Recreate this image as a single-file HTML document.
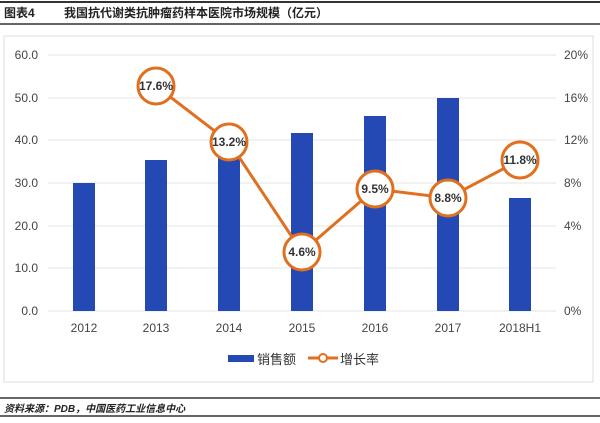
<!DOCTYPE html>
<html><head><meta charset="utf-8"><style>
body{margin:0;width:600px;height:418px;background:#fff;overflow:hidden;font-family:"Liberation Sans","Noto Sans CJK SC",sans-serif}
</style></head><body>
<svg width="600" height="418" xmlns="http://www.w3.org/2000/svg" font-family="Liberation Sans, Noto Sans CJK SC, sans-serif">
<line x1="0" y1="2" x2="600" y2="2" stroke="#333" stroke-width="2"/>
<text x="4" y="17" font-size="12" font-weight="bold" fill="#222">图表4</text>
<text x="64" y="17" font-size="12" font-weight="bold" fill="#222">我国抗代谢类抗肿瘤药样本医院市场规模（亿元）</text>
<line x1="0" y1="24" x2="600" y2="24" stroke="#333" stroke-width="1.5"/>
<rect x="4" y="36" width="589" height="346" fill="#fff" stroke="#ddd"/>
<g stroke="#e4e4e4" stroke-width="1">
<line x1="48" y1="55" x2="556" y2="55"/><line x1="48" y1="98" x2="556" y2="98"/><line x1="48" y1="140" x2="556" y2="140"/><line x1="48" y1="183" x2="556" y2="183"/><line x1="48" y1="226" x2="556" y2="226"/><line x1="48" y1="268" x2="556" y2="268"/><line x1="48" y1="311" x2="556" y2="311"/>
</g>
<g font-size="12" fill="#444" text-anchor="end">
<text x="38" y="59">60.0</text><text x="38" y="102">50.0</text><text x="38" y="144">40.0</text><text x="38" y="187">30.0</text><text x="38" y="230">20.0</text><text x="38" y="272">10.0</text><text x="38" y="315">0.0</text>
</g>
<g font-size="12" fill="#444">
<text x="564" y="59">20%</text><text x="564" y="102">16%</text><text x="564" y="144">12%</text><text x="564" y="187">8%</text><text x="564" y="230">4%</text><text x="564" y="315">0%</text>
</g>
<g fill="#2449b4">
<rect x="73" y="183" width="22" height="128"/><rect x="145" y="160" width="22" height="151"/><rect x="218" y="150" width="22" height="161"/><rect x="291" y="133" width="22" height="178"/><rect x="364" y="116" width="22" height="195"/><rect x="437" y="98" width="22" height="213"/><rect x="509" y="198" width="22" height="113"/>
</g>
<g font-size="12" fill="#444" text-anchor="middle">
<text x="84" y="332">2012</text><text x="156" y="332">2013</text><text x="229" y="332">2014</text><text x="302" y="332">2015</text><text x="375" y="332">2016</text><text x="448" y="332">2017</text><text x="520" y="332">2018H1</text>
</g>
<polyline points="156,86 229,142 302,252 375,189 448,198 520,160" fill="none" stroke="#e07020" stroke-width="3"/>
<g fill="#fff" stroke="#e07020" stroke-width="3">
<circle cx="156" cy="86" r="18"/><circle cx="229" cy="142" r="18"/><circle cx="302" cy="252" r="18"/><circle cx="375" cy="189" r="18"/><circle cx="448" cy="198" r="18"/><circle cx="520" cy="160" r="18"/>
</g>
<g font-size="12" font-weight="bold" fill="#333" text-anchor="middle">
<text x="156" y="90">17.6%</text><text x="229" y="146">13.2%</text><text x="302" y="256">4.6%</text><text x="375" y="193">9.5%</text><text x="448" y="202">8.8%</text><text x="520" y="164">11.8%</text>
</g>
<rect x="228" y="355" width="26" height="7" fill="#2449b4"/>
<text x="257" y="364" font-size="13" fill="#333">销售额</text>
<line x1="308" y1="358" x2="338" y2="358" stroke="#e07020" stroke-width="3"/>
<circle cx="323" cy="358" r="4" fill="#fff" stroke="#e07020" stroke-width="2"/>
<text x="340" y="364" font-size="13" fill="#333">增长率</text>
<line x1="0" y1="398" x2="600" y2="398" stroke="#333" stroke-width="1.5"/>
<text x="4" y="412" font-size="10" font-weight="bold" font-style="italic" fill="#222">资料来源：PDB，中国医药工业信息中心</text>
<line x1="0" y1="416" x2="600" y2="416" stroke="#333" stroke-width="1.5"/>
</svg>
</body></html>
